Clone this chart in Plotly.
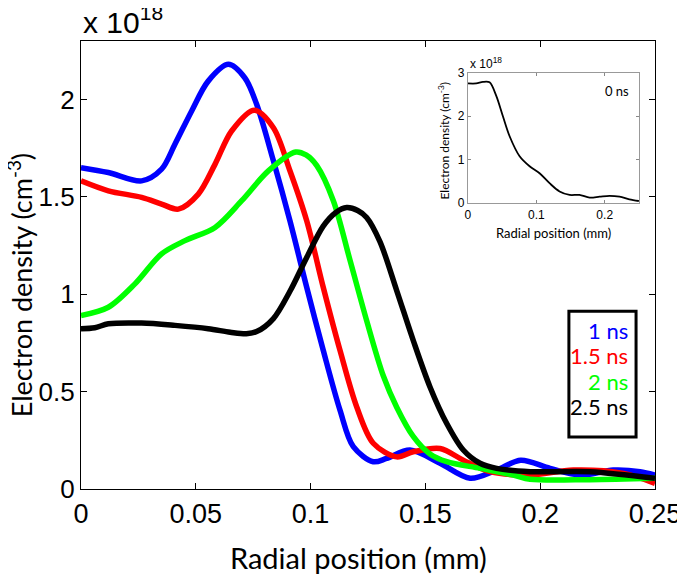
import plotly.graph_objects as go

# ---- data (x in mm, y in units of 1e18 cm^-3) ----
x_1ns = [0, 0.0119, 0.0264, 0.0351, 0.0409, 0.0482, 0.0554, 0.0642, 0.0714, 0.0765, 0.0838, 0.091,
         0.0983, 0.1055, 0.1128, 0.1186, 0.1273, 0.1331, 0.1433, 0.1564, 0.1695, 0.181, 0.1915,
         0.2043, 0.2174, 0.2318, 0.2435, 0.25]
y_1ns = [1.65, 1.625, 1.582, 1.642, 1.77, 1.941, 2.094, 2.18, 2.11, 1.975, 1.685, 1.377,
         1.036, 0.712, 0.405, 0.217, 0.140, 0.157, 0.2, 0.132, 0.055, 0.097, 0.148,
         0.106, 0.072, 0.097, 0.089, 0.072]

x_15ns = [0, 0.0119, 0.0264, 0.0351, 0.0424, 0.0511, 0.0584, 0.0656, 0.0755, 0.0838, 0.091,
          0.0983, 0.1055, 0.1128, 0.1201, 0.1273, 0.1375, 0.1447, 0.1564, 0.1665,
          0.1782, 0.1956, 0.2144, 0.2362, 0.25]
y_15ns = [1.582, 1.531, 1.497, 1.463, 1.437, 1.514, 1.668, 1.838, 1.945, 1.855, 1.634,
          1.377, 1.036, 0.712, 0.421, 0.235, 0.165, 0.191, 0.208, 0.148,
          0.089, 0.072, 0.097, 0.08, 0.029]

x_2ns = [0, 0.0119, 0.0235, 0.0351, 0.0453, 0.0584, 0.07, 0.0816, 0.0935, 0.098, 0.1027, 0.1099,
         0.1172, 0.1244, 0.1317, 0.1375, 0.1447, 0.152, 0.1593, 0.1738, 0.1883, 0.1956,
         0.2217, 0.25]
y_2ns = [0.891, 0.933, 1.053, 1.207, 1.275, 1.343, 1.48, 1.633, 1.73, 1.715, 1.66, 1.48,
         1.173, 0.865, 0.58, 0.42, 0.27, 0.18, 0.14, 0.106, 0.072, 0.05,
         0.048, 0.055]

x_25ns = [0, 0.006, 0.0119, 0.0264, 0.0409, 0.0554, 0.065, 0.072, 0.0765, 0.0838, 0.091, 0.0983,
          0.1055, 0.111, 0.1157, 0.1205, 0.1244, 0.1302, 0.1375, 0.1447, 0.152, 0.1593, 0.1665,
          0.1738, 0.181, 0.1956, 0.2217, 0.25]
y_25ns = [0.823, 0.828, 0.848, 0.852, 0.84, 0.823, 0.805, 0.797, 0.808, 0.875, 1.015, 1.189,
          1.35, 1.42, 1.445, 1.43, 1.394, 1.27, 1.019, 0.763, 0.524, 0.336, 0.2,
          0.132, 0.106, 0.089, 0.089, 0.055]

x_0ns = [0, 0.0122, 0.022, 0.0317, 0.0415, 0.0512, 0.061, 0.0756, 0.0902, 0.1048, 0.1194,
         0.134, 0.1487, 0.163, 0.178, 0.1925, 0.207, 0.2217, 0.236, 0.25]
y_0ns = [2.755, 2.755, 2.79, 2.78, 2.47, 2.0, 1.54, 1.08, 0.85, 0.69, 0.46,
         0.27, 0.19, 0.19, 0.13, 0.15, 0.17, 0.15, 0.09, 0.05]

series_names = ["1 ns", "1.5 ns", "2 ns", "2.5 ns"]
series_colors = ["#0000ff", "#ff0000", "#00ff00", "#000000"]

main_x_ticks = [0, 0.05, 0.1, 0.15, 0.2, 0.25]
main_x_ticktext = ["0", "0.05", "0.1", "0.15", "0.2", "0.25"]
main_y_ticks = [0, 0.5, 1, 1.5, 2]
main_y_ticktext = ["0", "0.5", "1", "1.5", "2"]
inset_x_ticks = [0, 0.1, 0.2]
inset_x_ticktext = ["0", "0.1", "0.2"]
inset_y_ticks = [0, 1, 2, 3]

TICKFONT = "Liberation Sans, Arial, sans-serif"
TITLEFONT = "Lato, Open Sans, sans-serif"

fig = go.Figure()
xs = [x_1ns, x_15ns, x_2ns, x_25ns]
ys = [y_1ns, y_15ns, y_2ns, y_25ns]
for xv, yv, n, c in zip(xs, ys, series_names, series_colors):
    fig.add_trace(go.Scatter(x=xv, y=yv, name=n, mode="lines",
                             line=dict(color=c, width=5.5, shape="spline", smoothing=0.9),
                             showlegend=False, xaxis="x", yaxis="y"))

fig.add_trace(go.Scatter(x=x_0ns, y=y_0ns, name="0 ns", mode="lines",
                         line=dict(color="black", width=1.8, shape="spline", smoothing=0.9),
                         showlegend=False, xaxis="x2", yaxis="y2"))

fig.update_layout(
    width=677, height=573,
    margin=dict(l=73, r=30, t=33, b=92),
    paper_bgcolor="white", plot_bgcolor="white",
    xaxis=dict(range=[0, 0.25], tickvals=main_x_ticks, ticktext=main_x_ticktext,
               ticks="inside", ticklen=6, tickcolor="black", showline=True, linecolor="black",
               linewidth=1.2, mirror="ticks", showgrid=False, zeroline=False, automargin=False,
               tickfont=dict(family=TICKFONT, size=27, color="black"),
               domain=[0, 1]),
    yaxis=dict(range=[0, 2.3], tickvals=main_y_ticks, ticktext=main_y_ticktext,
               ticks="inside", ticklen=6, tickcolor="black", showline=True, linecolor="black",
               linewidth=1.2, mirror="ticks", showgrid=False, zeroline=False, automargin=False,
               tickfont=dict(family=TICKFONT, size=26, color="black"),
               domain=[0, 1]),
    xaxis2=dict(range=[0, 0.25], tickvals=inset_x_ticks, ticktext=inset_x_ticktext,
                ticks="inside", ticklen=3, tickcolor="#888", showline=True, linecolor="#999",
                linewidth=1, mirror="ticks", showgrid=False, zeroline=False, automargin=False,
                tickfont=dict(family=TICKFONT, size=12, color="black"),
                domain=[0.674, 0.972], anchor="y2"),
    yaxis2=dict(range=[0, 3], tickvals=inset_y_ticks,
                ticks="inside", ticklen=3, tickcolor="#888", showline=True, linecolor="#999",
                linewidth=1, mirror="ticks", showgrid=False, zeroline=False, automargin=False,
                tickfont=dict(family=TICKFONT, size=12, color="black"),
                domain=[0.638, 0.929], anchor="x2"),
)

annotations = [
    # main axis titles
    dict(text="Radial position (mm)", xref="paper", yref="paper", x=0.484, y=-0.154,
         xanchor="center", yanchor="middle", showarrow=False,
         font=dict(family=TITLEFONT, size=29, color="black")),
    dict(text="Electron density (cm<sup>-3</sup>)", xref="paper", yref="paper", x=-0.106, y=0.455,
         xanchor="center", yanchor="middle", showarrow=False, textangle=-90,
         font=dict(family=TITLEFONT, size=27, color="black")),
    # inset axis titles
    dict(text="Radial position (mm)", xref="x2 domain", yref="y2 domain", x=0.5, y=-0.15,
         xanchor="center", yanchor="top", showarrow=False,
         font=dict(family=TITLEFONT, size=13, color="black")),
    dict(text="Electron density (cm<sup>-3</sup>)", xref="x2 domain", yref="y2 domain", x=-0.14, y=0.48,
         xanchor="center", yanchor="middle", showarrow=False, textangle=-90,
         font=dict(family=TITLEFONT, size=12, color="black")),
    # exponent labels
    dict(text="x 10<sup>18</sup>", xref="paper", yref="paper", x=0, y=1.0, xanchor="left",
         yanchor="bottom", showarrow=False, font=dict(family=TICKFONT, size=30, color="black")),
    dict(text="x 10<sup>18</sup>", xref="x2 domain", yref="y2 domain", x=0, y=1.0, xanchor="left",
         yanchor="bottom", showarrow=False, font=dict(family=TICKFONT, size=12, color="black")),
    dict(text="0 ns", xref="x2 domain", yref="y2 domain", x=0.87, y=0.86, xanchor="center",
         yanchor="middle", showarrow=False, font=dict(family=TITLEFONT, size=13, color="black")),
]
legend_y = [0.353, 0.299, 0.240, 0.184]
for n, c, yy in zip(series_names, series_colors, legend_y):
    annotations.append(dict(text=n, xref="paper", yref="paper", x=0.957, y=yy, xanchor="right",
                            yanchor="middle", showarrow=False,
                            font=dict(family=TITLEFONT, size=22, color=c)))
fig.update_layout(annotations=annotations)
fig.add_shape(type="rect", xref="paper", yref="paper", x0=0.850, x1=0.967, y0=0.116, y1=0.397,
              line=dict(color="black", width=3), fillcolor="rgba(0,0,0,0)")

fig.write_html("out.html")
